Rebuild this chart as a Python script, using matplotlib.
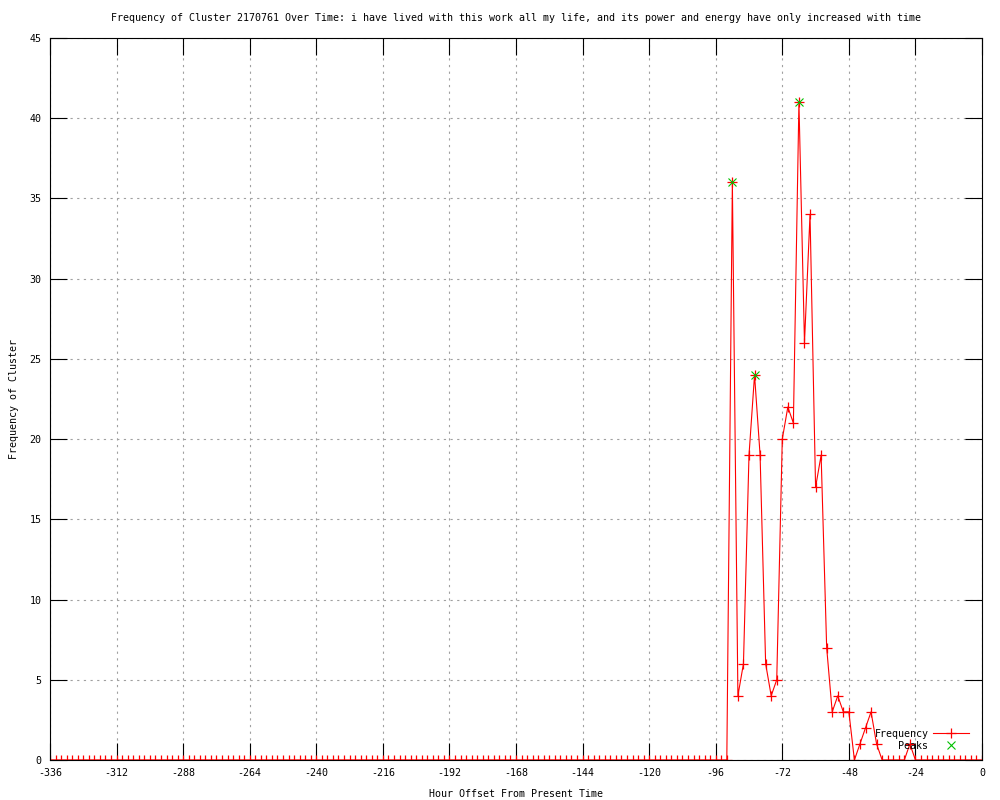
import numpy as np
import matplotlib
matplotlib.use("Agg")
import matplotlib.pyplot as plt

# hours before present, one sample every 2 hours
hours = np.arange(-336, 1, 2)

# frequency per sample (-336 .. -92 all zero)
freq_before = [0] * 123
# -90 .. -38
freq_burst = [36, 4, 6, 19, 24, 19, 6, 4, 5, 20, 22, 21, 41, 26, 34,
              17, 19, 7, 3, 4, 3, 3, 0, 1, 2, 3, 1]
# -36 .. 0
freq_after = [0, 0, 0, 0, 0, 1, 0, 0, 0, 0, 0, 0, 0, 0, 0, 0, 0, 0, 0]
freq = freq_before + freq_burst + freq_after

peak_hours = [-90, -82, -66]
peak_vals = [36, 24, 41]

xticks = list(range(-336, 1, 24))
yticks = list(range(0, 46, 5))

plt.rcParams['font.family'] = ['DejaVu Sans Mono']
fs = 7.2

fig = plt.figure(figsize=(10, 8), dpi=100)
ax = fig.add_axes([0.050, 0.050, 0.932, 0.9025])

ax.plot(hours, freq, color='red', lw=0.8, marker='+', ms=7, mew=0.9,
        label='Frequency')
ax.plot(peak_hours, peak_vals, color='#00c000', lw=0, marker='x', ms=5.5,
        mew=0.8, label='Peaks')

ax.set_xlim(-336, 0)
ax.set_ylim(0, 45)
ax.set_xticks(xticks)
ax.set_yticks(yticks)
ax.set_xticklabels([str(t) for t in xticks], fontsize=fs)
ax.set_yticklabels([str(t) for t in yticks], fontsize=fs)
ax.tick_params(direction='in', length=12, width=0.8, top=True, right=True, pad=6)
ax.grid(True, color='#a0a0a0', linestyle=(0, (2, 4)), lw=0.8)
for s in ax.spines.values():
    s.set_linewidth(0.8)

ax.set_title('Frequency of Cluster 2170761 Over Time: i have lived with this work all my life, '
             'and its power and energy have only increased with time', fontsize=fs, pad=12)
ax.set_xlabel('Hour Offset From Present Time', fontsize=fs, labelpad=8)
ax.set_ylabel('Frequency of Cluster', fontsize=fs, labelpad=8)

ax.legend(loc='lower right', bbox_to_anchor=(0.994, 0.003), frameon=False,
          markerfirst=False, fontsize=fs, handlelength=3.6, handletextpad=0.5,
          labelspacing=0.2, borderaxespad=0.3)

fig.savefig('out.png', dpi=100)
